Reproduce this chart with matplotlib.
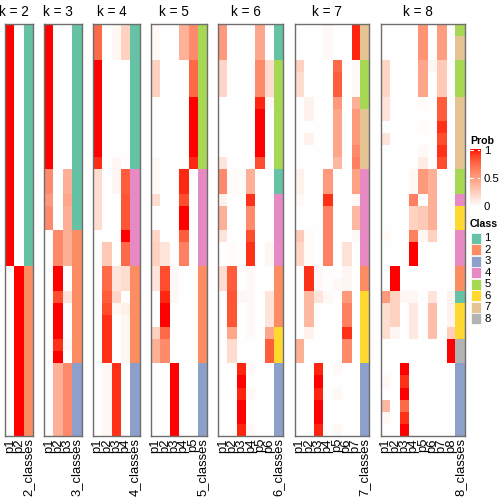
import numpy as np
import matplotlib
matplotlib.use('Agg')
import matplotlib.pyplot as plt
from matplotlib.colors import ListedColormap, to_rgb

plt.rcParams['font.family'] = ['Liberation Sans', 'DejaVu Sans']

# 每个面板: (行数, 类别, [p1..pk])，行从上到下
k2_blocks = [(20, 1, [1, 0]), (14, 2, [0, 1])]

k3_blocks = [
    (12, 1, [1, 0, 0]),
    (2, 1, [0.59, 0, 0.41]),
    (1, 1, [0.52, 0, 0.46]),
    (2, 1, [0.59, 0, 0.41]),
    (3, 2, [0, 0.59, 0.41]),
    (2, 2, [0, 1, 0]),
    (1, 2, [0, 0.85, 0.14]),
    (3, 2, [0, 1, 0]),
    (1, 2, [0, 0.93, 0.03]),
    (1, 2, [0, 1, 0]),
    (6, 3, [0, 0.41, 0.59]),
]

k4_blocks = [
    (3, 1, [0.74, 0, 0.04, 0.24]),
    (8, 1, [1, 0, 0, 0]),
    (1, 1, [0.94, 0, 0.04, 0]),
    (2, 4, [0.18, 0, 0.05, 0.79]),
    (3, 4, [0.18, 0, 0, 0.82]),
    (1, 4, [0, 0, 0, 1]),
    (2, 4, [0, 0.28, 0, 0.74]),
    (2, 2, [0, 0.74, 0.14, 0.18]),
    (1, 2, [0, 0.79, 0.22, 0]),
    (1, 2, [0, 0.85, 0.04, 0.08]),
    (4, 2, [0, 0.93, 0, 0.05]),
    (6, 3, [0, 0.04, 0.93, 0]),
]

k5_blocks = [
    (3, 5, [0.03, 0, 0, 0.4, 0.59]),
    (3, 5, [0.24, 0, 0, 0, 0.74]),
    (5, 5, [0, 0, 0, 0, 1]),
    (1, 5, [0.03, 0, 0, 0, 0.95]),
    (2, 4, [0.03, 0, 0, 0.95, 0]),
    (1, 4, [0.18, 0, 0, 0.85, 0]),
    (2, 4, [0, 0, 0, 1, 0]),
    (1, 4, [0.22, 0, 0, 0.79, 0]),
    (2, 4, [0.24, 0.14, 0, 0.64, 0]),
    (2, 2, [0.14, 0.85, 0.03, 0, 0]),
    (1, 2, [0, 0.95, 0.03, 0, 0]),
    (2, 2, [0, 1, 0, 0, 0]),
    (1, 2, [0.24, 0.74, 0, 0, 0]),
    (2, 2, [0.41, 0.59, 0, 0, 0]),
    (6, 3, [0, 0, 1, 0, 0]),
]

k6_blocks = [
    (3, 1, [0.52, 0, 0, 0, 0.46, 0]),
    (3, 5, [0.22, 0, 0, 0, 0.59, 0.18]),
    (1, 5, [0, 0, 0, 0, 0.96, 0.03]),
    (4, 5, [0, 0, 0, 0, 1, 0]),
    (1, 5, [0.14, 0, 0, 0, 0.85, 0]),
    (2, 1, [0.59, 0.02, 0.02, 0.41, 0, 0]),
    (1, 4, [0.07, 0, 0, 0.93, 0, 0]),
    (2, 4, [0.41, 0, 0, 0.59, 0, 0]),
    (1, 4, [0.14, 0, 0, 0.85, 0, 0]),
    (2, 4, [0, 0.02, 0, 0.93, 0, 0.05]),
    (2, 2, [0.18, 0.79, 0, 0.03, 0, 0]),
    (1, 2, [0, 0.82, 0.05, 0.03, 0, 0.14]),
    (2, 2, [0, 0.82, 0, 0.03, 0, 0.14]),
    (1, 6, [0, 0.46, 0, 0.03, 0, 0.46]),
    (2, 6, [0, 0.18, 0, 0, 0, 0.79]),
    (1, 3, [0, 0, 0.96, 0.03, 0, 0]),
    (1, 3, [0, 0, 1, 0, 0, 0]),
    (1, 3, [0, 0, 0.96, 0.03, 0, 0]),
    (2, 3, [0, 0, 1, 0, 0, 0]),
    (1, 3, [0, 0, 0.96, 0.03, 0, 0]),
]

k7_blocks = [
    (3, 7, [0, 0, 0, 0.03, 0, 0, 0.96]),
    (1, 5, [0.24, 0, 0, 0, 0.74, 0, 0.03]),
    (2, 5, [0.18, 0, 0, 0, 0.79, 0, 0.03]),
    (1, 5, [0, 0.07, 0, 0, 0.52, 0, 0.41]),
    (1, 7, [0, 0.07, 0, 0, 0.46, 0, 0.52]),
    (1, 7, [0, 0, 0, 0, 0.46, 0, 0.52]),
    (1, 7, [0, 0.07, 0, 0, 0.46, 0, 0.52]),
    (1, 7, [0, 0, 0, 0, 0.46, 0, 0.59]),
    (1, 7, [0, 0, 0, 0, 0.37, 0, 0.64]),
    (2, 4, [0.07, 0, 0, 0.52, 0, 0, 0.48]),
    (1, 4, [0.03, 0, 0, 0.93, 0, 0, 0.03]),
    (2, 4, [0, 0, 0, 0.64, 0, 0, 0.37]),
    (1, 4, [0.28, 0.02, 0, 0.64, 0, 0, 0.03]),
    (2, 4, [0.22, 0.02, 0, 0.64, 0, 0.16, 0]),
    (1, 2, [0, 0.93, 0.03, 0, 0, 0.05, 0]),
    (1, 2, [0, 0.93, 0.03, 0, 0.03, 0.05, 0]),
    (1, 6, [0, 0.37, 0.14, 0.03, 0, 0.52, 0]),
    (2, 6, [0, 0.37, 0, 0, 0, 0.64, 0]),
    (1, 6, [0, 0.07, 0, 0, 0, 0.93, 0]),
    (2, 6, [0.41, 0, 0, 0, 0, 0.59, 0]),
    (1, 3, [0, 0, 0.96, 0, 0.03, 0, 0]),
    (1, 3, [0, 0, 1, 0, 0, 0, 0]),
    (1, 3, [0, 0, 0.96, 0, 0.03, 0, 0]),
    (2, 3, [0, 0, 1, 0, 0, 0, 0]),
    (1, 3, [0, 0, 0.96, 0, 0.03, 0, 0]),
]

k8_blocks = [
    (1, 5, [0, 0, 0, 0, 0.55, 0, 0.5, 0]),
    (2, 7, [0, 0, 0, 0, 0.55, 0, 0.5, 0]),
    (1, 5, [0.22, 0, 0, 0, 0.46, 0.05, 0.28, 0]),
    (2, 5, [0.22, 0, 0, 0, 0.46, 0, 0.28, 0]),
    (1, 7, [0.14, 0, 0, 0, 0.02, 0, 0.79, 0]),
    (1, 7, [0.14, 0, 0, 0, 0, 0, 0.79, 0]),
    (1, 7, [0, 0, 0, 0, 0.02, 0, 0.93, 0]),
    (1, 7, [0.14, 0, 0, 0, 0, 0, 0.85, 0]),
    (1, 7, [0, 0, 0, 0, 0.03, 0, 0.93, 0]),
    (1, 7, [0, 0, 0, 0, 0.1, 0, 0.85, 0]),
    (2, 5, [0, 0, 0, 0.03, 0.52, 0.41, 0, 0]),
    (1, 4, [0, 0, 0, 0.64, 0, 0.41, 0, 0]),
    (2, 6, [0, 0, 0, 0.24, 0.28, 0.41, 0, 0]),
    (1, 4, [0.02, 0, 0, 0.64, 0.05, 0.24, 0, 0]),
    (2, 4, [0, 0, 0, 1, 0, 0, 0, 0]),
    (2, 2, [0, 1, 0, 0, 0, 0, 0, 0]),
    (1, 1, [0.52, 0.24, 0.04, 0.04, 0, 0.14, 0, 0.06]),
    (2, 6, [0.18, 0.24, 0, 0.12, 0, 0.33, 0, 0.06]),
    (1, 6, [0.18, 0.05, 0, 0.12, 0, 0.33, 0, 0.26]),
    (2, 8, [0, 0, 0, 0, 0, 0, 0, 1]),
    (1, 3, [0, 0, 1, 0, 0, 0, 0, 0]),
    (1, 3, [0.04, 0, 0.93, 0, 0, 0, 0, 0]),
    (1, 3, [0, 0, 1, 0, 0, 0, 0, 0]),
    (1, 3, [0.37, 0, 0.74, 0, 0, 0, 0, 0]),
    (1, 3, [0.04, 0, 0.93, 0, 0, 0, 0, 0]),
    (1, 3, [0, 0, 1, 0, 0, 0, 0, 0]),
]

panels = [k2_blocks, k3_blocks, k4_blocks, k5_blocks, k6_blocks, k7_blocks, k8_blocks]
ks = [2, 3, 4, 5, 6, 7, 8]
class_colors = ['#66C2A5', '#FC8D62', '#8DA0CB', '#E78AC3',
                '#A6D854', '#FFD92F', '#E5C494', '#B3B3B3']
class_labels = ['1', '2', '3', '4', '5', '6', '7', '8']
prob_ticks = [0, 0.5, 1]


# 白 -> 红，LAB 空间插值（类似 colorRamp2）
def lab_ramp(n=256):
    t = np.linspace(0, 1, n)
    L = 100 + (53.24 - 100) * t
    a = 80.09 * t
    b = 67.20 * t
    fy = (L + 16) / 116
    fx = fy + a / 500
    fz = fy - b / 200

    def finv(f):
        return np.where(f ** 3 > 0.008856, f ** 3, (f - 16 / 116) / 7.787)

    X = 0.95047 * finv(fx)
    Y = finv(fy)
    Z = 1.08883 * finv(fz)
    r = 3.2406 * X - 1.5372 * Y - 0.4986 * Z
    g = -0.9689 * X + 1.8758 * Y + 0.0415 * Z
    bb = 0.0557 * X - 0.2040 * Y + 1.0570 * Z
    rgb = np.clip(np.stack([r, g, bb], axis=1), 0, 1)
    rgb = np.where(rgb <= 0.0031308, 12.92 * rgb, 1.055 * rgb ** (1 / 2.4) - 0.055)
    return ListedColormap(np.clip(rgb, 0, 1))


cmap = lab_ramp()
class_rgb = np.array([to_rgb(c) for c in class_colors])

W = H = 504
fig = plt.figure(figsize=(W / 100, H / 100), dpi=100)


def px_axes(x, y, w, h):
    return fig.add_axes([x / W, 1 - (y + h) / H, w / W, h / H])


top, bottom = 24, 436
cw = 9.33
gap = 11.3
x = 5
for k, blocks in zip(ks, panels):
    probs = []
    cls = []
    for n, c, p in blocks:
        probs += [p] * n
        cls += [c] * n
    probs = np.array(probs, dtype=float)
    cls = np.array(cls)
    nrow = len(cls)

    ax = px_axes(x, top, (k + 1) * cw, bottom - top)
    ax.imshow(probs, cmap=cmap, vmin=0, vmax=1, extent=(0, k, nrow, 0),
              aspect='auto', interpolation='nearest')
    ax.imshow(class_rgb[cls - 1][:, None, :], extent=(k, k + 1, nrow, 0),
              aspect='auto', interpolation='nearest')
    ax.set_xlim(0, k + 1)
    ax.set_ylim(nrow, 0)
    ax.set_yticks([])
    ax.set_xticks(np.arange(k + 1) + 0.5)
    ax.set_xticklabels([f'p{i + 1}' for i in range(k)] + [f'{k}_classes'],
                       rotation=90, fontsize=9.4)
    ax.tick_params(axis='x', length=0, pad=1.5)
    for s in ax.spines.values():
        s.set_color('#6e6e6e')
        s.set_linewidth(1.0)
    fig.text((x + k * cw / 2) / W, 1 - 11.5 / H, f'k = {k}',
             ha='center', va='center', fontsize=9.8)
    x += (k + 1) * cw + gap

# 图例: Prob
fig.text(470 / W, 1 - 141 / H, 'Prob', fontsize=7.6, fontweight='bold',
         ha='left', va='center')
cax = px_axes(470, 149, 10, 58)
grad = np.linspace(1, 0, 200)[:, None]
cax.imshow(grad, cmap=cmap, vmin=0, vmax=1, aspect='auto', extent=(0, 1, 0, 1))
cax.set_xlim(0, 1)
cax.set_ylim(0, 1)
cax.axis('off')
for v in prob_ticks[1:]:
    yy = v if v < 1 else 0.985
    cax.plot([0, 0.25], [yy, yy], color='white', lw=0.8)
    cax.plot([0.75, 1], [yy, yy], color='white', lw=0.8)
for v in prob_ticks:
    fig.text(484 / W, 1 - (207 - v * 56) / H, f'{v:g}', fontsize=8.2,
             ha='left', va='center')

# 图例: Class
fig.text(470 / W, 1 - 224 / H, 'Class', fontsize=7.6, fontweight='bold',
         ha='left', va='center')
lax = px_axes(470, 232.5, 30, 11.5 * len(class_labels))
lax.set_xlim(0, 30)
lax.set_ylim(len(class_labels), 0)
lax.axis('off')
for i, (c, lab) in enumerate(zip(class_colors, class_labels)):
    lax.add_patch(plt.Rectangle((0.5, i + 0.04), 10.5, 0.92, color=c, ec='white', lw=0.5))
    lax.text(14.5, i + 0.5, lab, fontsize=8.2, ha='left', va='center')

fig.savefig('out.png', dpi=100)
